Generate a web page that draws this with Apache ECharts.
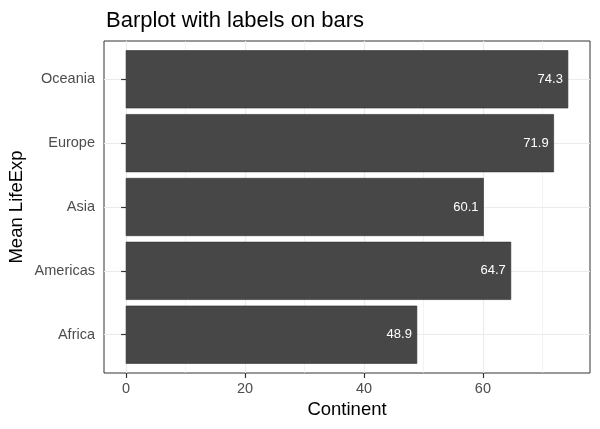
<!DOCTYPE html>
<html><head><meta charset="utf-8">
<script src="https://cdn.jsdelivr.net/npm/echarts@6/dist/echarts.min.js"></script>
<style>html,body{margin:0;padding:0;background:#fff}#c{width:600px;height:429px}</style>
</head><body><div id="c"></div>
<script>
const categories = ['Africa', 'Americas', 'Asia', 'Europe', 'Oceania'];
const lifeExp = [48.9, 64.7, 60.1, 71.9, 74.3];
const xTicks = [0, 20, 40, 60];
const xMinorTicks = [10, 30, 50, 70];
const yPositions = [1, 2, 3, 4, 5];

const FONT = 'Liberation Sans, Arial, Helvetica, sans-serif';
const maxV = Math.max(...lifeExp);
const xMin = -maxV * 0.05, xMax = maxV * 1.05;

const chart = echarts.init(document.getElementById('c'));
chart.setOption({
  animation: false,
  backgroundColor: '#fff',
  title: {
    text: 'Barplot with labels on bars',
    left: 101, top: 5,
    textStyle: { fontFamily: FONT, fontSize: 22, fontWeight: 'normal', color: '#000' }
  },
  grid: {
    left: 104, right: 10, top: 41, bottom: 56,
    containLabel: false, outerBoundsMode: 'none',
    show: true, borderColor: '#333333', borderWidth: 1, backgroundColor: '#fff'
  },
  xAxis: [{
    type: 'value', min: xMin, max: xMax,
    name: 'Continent', nameLocation: 'middle', nameGap: 27, nameMoveOverlap: false,
    nameTextStyle: { fontFamily: FONT, fontSize: 18.5, color: '#000' },
    axisLine: { show: false },
    axisTick: { show: true, customValues: xTicks, length: 5, lineStyle: { color: '#333333', width: 1.2 } },
    axisLabel: { customValues: xTicks, fontFamily: FONT, fontSize: 14.5, color: '#4d4d4d', margin: 8 },
    splitLine: { show: true, lineStyle: { color: '#ebebeb', width: 1.2 } }
  }, {
    type: 'value', min: xMin, max: xMax, position: 'bottom',
    axisLine: { show: false },
    axisTick: { show: false, customValues: xMinorTicks },
    axisLabel: { show: false, customValues: xMinorTicks },
    splitLine: { show: true, lineStyle: { color: '#ebebeb', width: 0.6 } }
  }],
  yAxis: {
    type: 'value', min: 0.4, max: 5.6,
    name: 'Mean LifeExp', nameLocation: 'middle', nameGap: 78, nameMoveOverlap: false,
    nameTextStyle: { fontFamily: FONT, fontSize: 18.5, color: '#000' },
    axisLine: { show: false },
    axisTick: { show: true, customValues: yPositions, length: 5, lineStyle: { color: '#333333', width: 1.2 } },
    axisLabel: {
      customValues: yPositions, fontFamily: FONT, fontSize: 14.5, color: '#4d4d4d', margin: 9,
      formatter: v => categories[Math.round(v) - 1]
    },
    splitLine: { show: true, lineStyle: { color: '#ebebeb', width: 1.2 } }
  },
  series: [{
    type: 'custom',
    xAxisIndex: 0,
    data: lifeExp.map((v, i) => [v, yPositions[i]]),
    renderItem: function (params, api) {
      const v = api.value(0), y = api.value(1);
      const s = api.coord([0, y]);
      const e = api.coord([v, y]);
      const h = api.size([0, 0.9])[1];
      return {
        type: 'group',
        children: [{
          type: 'rect',
          shape: { x: s[0], y: s[1] - h / 2, width: e[0] - s[0], height: h },
          style: { fill: '#474747', stroke: '#2e2e2e', lineWidth: 0.6 }
        }, {
          type: 'text',
          style: {
            text: v.toFixed(1), x: e[0] - 5, y: s[1],
            align: 'right', verticalAlign: 'middle',
            fill: '#ffffff', font: '13px ' + FONT
          }
        }]
      };
    }
  }]
});
</script></body></html>
